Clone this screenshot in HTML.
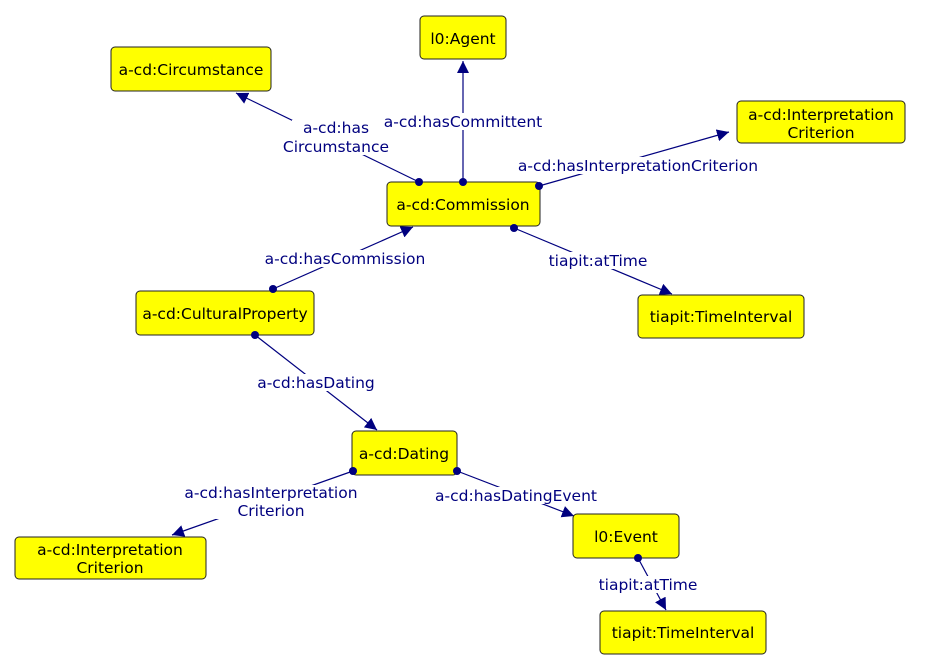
<!DOCTYPE html>
<html><head><style>
html,body{margin:0;padding:0;background:#fff;}
svg{display:block;}
text{font-family:"DejaVu Sans","Liberation Sans",sans-serif;font-size:15.5px;}
.n{fill:#ffff00;stroke:#222;stroke-width:1;}
.t{fill:#000;text-anchor:middle;}
.l{fill:#00007f;text-anchor:middle;}
.e{stroke:#00007f;stroke-width:1.2;fill:none;}
.d{fill:#00007f;}
</style></head><body>
<svg width="944" height="669" viewBox="0 0 944 669">
<defs><marker id="a" viewBox="0 0 10 10" refX="10" refY="5" markerWidth="12" markerHeight="12" markerUnits="userSpaceOnUse" orient="auto"><path d="M0,0L10,5L0,10z" fill="#00007f"/></marker></defs>
<line class="e" x1="463" y1="182" x2="463" y2="61" marker-end="url(#a)"/>
<line class="e" x1="419" y1="182" x2="236" y2="93" marker-end="url(#a)"/>
<line class="e" x1="539" y1="186" x2="729" y2="132" marker-end="url(#a)"/>
<line class="e" x1="514" y1="228" x2="672" y2="294" marker-end="url(#a)"/>
<line class="e" x1="273" y1="289" x2="413" y2="227" marker-end="url(#a)"/>
<line class="e" x1="255" y1="335" x2="377" y2="430" marker-end="url(#a)"/>
<line class="e" x1="353" y1="471" x2="172" y2="535" marker-end="url(#a)"/>
<line class="e" x1="457" y1="471" x2="574" y2="516" marker-end="url(#a)"/>
<line class="e" x1="638" y1="558" x2="666" y2="610" marker-end="url(#a)"/>
<g fill="#fff">
<rect x="383" y="113" width="160" height="17"/>
<rect x="292" y="120" width="88" height="35"/>
<rect x="516" y="157" width="244" height="17"/>
<rect x="555" y="252" width="86" height="17"/>
<rect x="263" y="250" width="164" height="17"/>
<rect x="257" y="374" width="119" height="17"/>
<rect x="185" y="485" width="173" height="34"/>
<rect x="436" y="487" width="161" height="17"/>
<rect x="606" y="576" width="84" height="17"/>
</g>
<g class="l">
<text x="463" y="127">a-cd:hasCommittent</text>
<text x="336" y="133">a-cd:has</text><text x="336" y="152">Circumstance</text>
<text x="638" y="171">a-cd:hasInterpretationCriterion</text>
<text x="598" y="266">tiapit:atTime</text>
<text x="345" y="264">a-cd:hasCommission</text>
<text x="316" y="388">a-cd:hasDating</text>
<text x="271" y="498">a-cd:hasInterpretation</text><text x="271" y="516">Criterion</text>
<text x="516" y="501">a-cd:hasDatingEvent</text>
<text x="648" y="590">tiapit:atTime</text>
</g>
<rect class="n" x="420" y="16" width="86" height="43" rx="4"/>
<rect class="n" x="111" y="47" width="160" height="44" rx="4"/>
<rect class="n" x="737" y="101" width="168" height="42" rx="4"/>
<rect class="n" x="387" y="182" width="153" height="44" rx="4"/>
<rect class="n" x="136" y="291" width="178" height="44" rx="4"/>
<rect class="n" x="638" y="295" width="166" height="43" rx="4"/>
<rect class="n" x="352" y="431" width="105" height="44" rx="4"/>
<rect class="n" x="15" y="537" width="191" height="42" rx="4"/>
<rect class="n" x="573" y="514" width="106" height="44" rx="4"/>
<rect class="n" x="600" y="611" width="166" height="43" rx="4"/>
<g class="d">
<circle cx="463" cy="182" r="4"/><circle cx="419" cy="182" r="4"/><circle cx="539" cy="186" r="4"/><circle cx="514" cy="228" r="4"/>
<circle cx="273" cy="289" r="4"/><circle cx="255" cy="335" r="4"/><circle cx="353" cy="471" r="4"/><circle cx="457" cy="471" r="4"/><circle cx="638" cy="558" r="4"/>
</g>
<g class="t">
<text x="463" y="44">l0:Agent</text>
<text x="191" y="75">a-cd:Circumstance</text>
<text x="821" y="120">a-cd:Interpretation</text><text x="821" y="138">Criterion</text>
<text x="463" y="210">a-cd:Commission</text>
<text x="225" y="319">a-cd:CulturalProperty</text>
<text x="721" y="322">tiapit:TimeInterval</text>
<text x="404" y="459">a-cd:Dating</text>
<text x="110" y="555">a-cd:Interpretation</text><text x="110" y="573">Criterion</text>
<text x="626" y="542">l0:Event</text>
<text x="683" y="638">tiapit:TimeInterval</text>
</g>
</svg>
</body></html>
